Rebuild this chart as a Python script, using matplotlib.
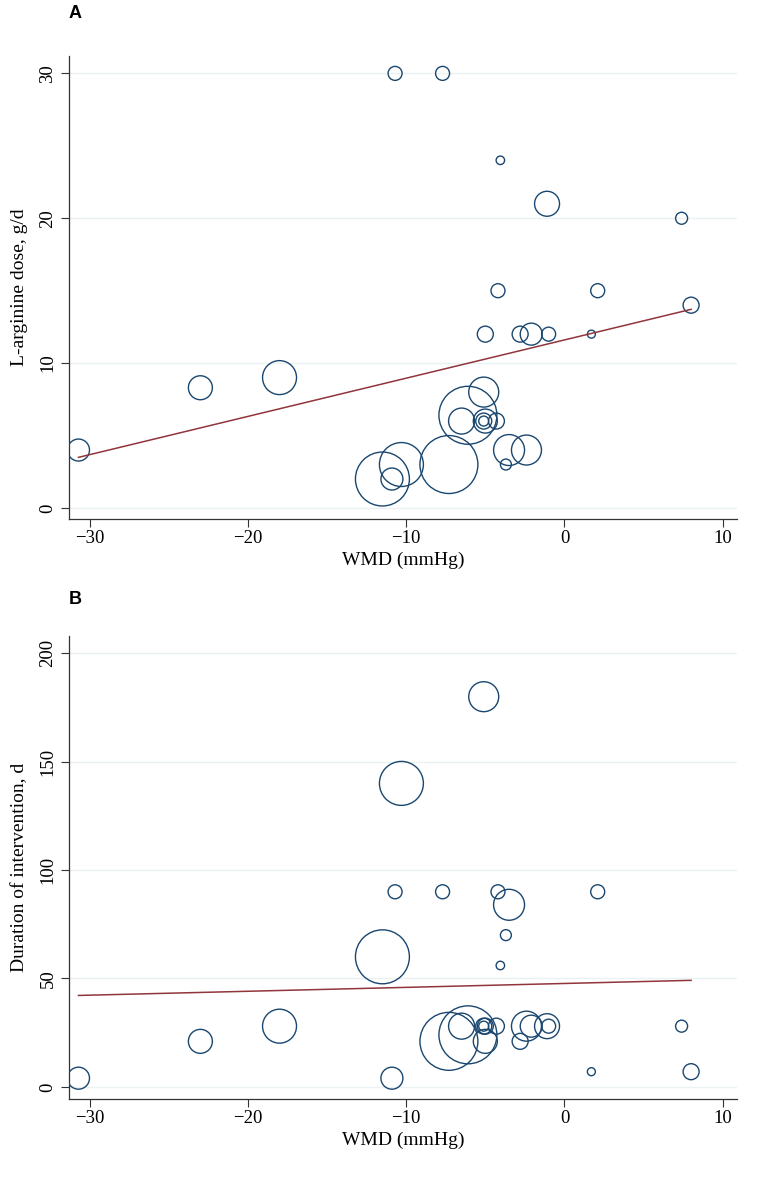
import matplotlib
matplotlib.use("Agg")
import matplotlib.pyplot as plt
import numpy as np

# ---- data (one entry per study) ----
wmd = [-30.7, -23.0, -18.0, -11.5, -10.9, -10.7, -10.3, -7.7, -7.3, -6.1,
       -6.5, -5.1, -5.1, -5.0, -5.1, -5.0, -4.3, -4.2, -4.05, -3.7,
       -3.5, -2.4, -2.8, -2.1, -1.0, -1.1, 1.7, 2.1, 7.4, 8.0]
weight = [12.1, 14.4, 28.9, 72.9, 12.1, 4.9, 48.4, 4.9, 84.1, 84.1,
          16.9, 2.5, 6.4, 14.4, 22.5, 6.4, 6.4, 4.9, 1.8, 3.0,
          24.0, 22.5, 6.4, 12.1, 4.9, 15.6, 1.6, 4.9, 3.6, 6.4]
dose = [4, 8.3, 9, 2, 2, 30, 3, 30, 3, 6.4,
        6, 6, 6, 6, 8, 12, 6, 15, 24, 3,
        4, 4, 12, 12, 12, 21, 12, 15, 20, 14]
duration = [4, 21, 28, 60, 4, 90, 140, 90, 21, 24,
            28, 28, 28, 21, 180, 28, 28, 90, 56, 70,
            84, 28, 21, 28, 28, 28, 7, 90, 28, 7]

# fitted meta-regression lines (intercept, slope)
fit_dose = (11.6, 0.264)
fit_duration = (47.7, 0.18)

xticks = [-30, -20, -10, 0, 10]
yticks_a = [0, 10, 20, 30]
yticks_b = [0, 50, 100, 150, 200]

navy = "#1a476f"
maroon = "#90353b"
grid_c = "#eaf2f3"
serif = ["Liberation Serif", "DejaVu Serif"]

fig = plt.figure(figsize=(7.57, 11.77), dpi=100)

def panel(rect, yvals, fit, yticks, ylim, ylabel, letter, letter_y):
    ax = fig.add_axes(rect)
    ax.set_xlim(-31.3, 10.9)
    ax.set_ylim(*ylim)
    for t in yticks:
        ax.axhline(t, color=grid_c, lw=1.0, zorder=0)
    w = np.array(weight)
    ax.scatter(wmd, yvals, s=w * 20.7, facecolors="none", edgecolors=navy,
               linewidths=1.0, zorder=3)
    xs = np.array([min(wmd), max(wmd)])
    ax.plot(xs, fit[0] + fit[1] * xs, color=maroon, lw=1.1, zorder=4)
    ax.spines["top"].set_visible(False)
    ax.spines["right"].set_visible(False)
    for s in ("left", "bottom"):
        ax.spines[s].set_color("#333333")
        ax.spines[s].set_linewidth(0.9)
    ax.set_xticks(xticks)
    ax.set_yticks(yticks)
    ax.tick_params(direction="out", length=6, width=0.8, color="#333333")
    ax.tick_params(axis="x", pad=2)
    ax.tick_params(axis="y", pad=3)
    for lab in ax.get_xticklabels():
        lab.set_family(serif)
        lab.set_fontsize(13.5)
    for lab in ax.get_yticklabels():
        lab.set_family(serif)
        lab.set_fontsize(13.5)
        lab.set_rotation(90)
        lab.set_verticalalignment("center")
    ax.set_xlabel("WMD (mmHg)", family=serif, fontsize=14, labelpad=3)
    ax.set_ylabel(ylabel, family=serif, fontsize=14, labelpad=8)
    fig.text(75 / 757, letter_y, letter, family=["Liberation Sans", "DejaVu Sans"],
             fontsize=13, fontweight="bold", ha="center", va="center")
    return ax

panel([69 / 757, 1 - 519 / 1177, 668 / 757, 463 / 1177], dose, fit_dose,
      yticks_a, (-0.76, 31.2), "L-arginine dose, g/d", "A", 1 - 14 / 1177)
panel([69 / 757, 1 - 1099 / 1177, 668 / 757, 463 / 1177], duration, fit_duration,
      yticks_b, (-5.6, 208), "Duration of intervention, d", "B", 1 - 600 / 1177)

fig.savefig("out.png", dpi=100, facecolor="white")
